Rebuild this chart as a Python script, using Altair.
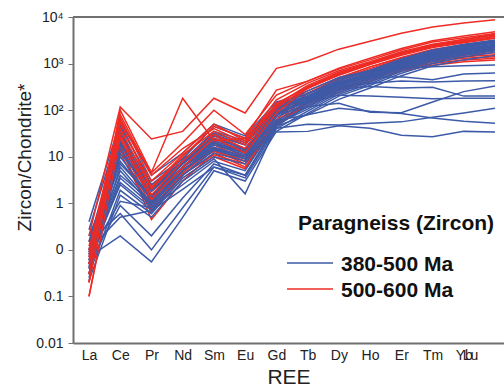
import altair as alt
import pandas as pd

elements = ["La", "Ce", "Pr", "Nd", "Sm", "Eu", "Gd", "Tb", "Dy", "Ho", "Er", "Tm", "Yb", "Lu"]
groups = ["380-500 Ma", "500-600 Ma"]
colors = ["#3D5AA8", "#EE2B24"]

# Zircon/chondrite-normalised REE patterns, 500-600 Ma group
red_lines = [
    [0.2, 117, 24, 35, 180, 87, 790, 1140, 2040, 3000, 4500, 6100, 7400, 8700],
    [0.05, 60, 4.6, 180, 22, 25, 270, 420, 800, 1300, 2100, 3100, 3900, 4800],
    [0.03, 100, 4.5, 20, 100, 30, 210, 420, 760, 1200, 1950, 2900, 3600, 4400],
    [0.1, 70, 3.0, 12, 50, 22, 166, 380, 700, 1100, 1800, 2600, 3300, 4100],
    [0.02, 40, 2.0, 10, 45, 25, 130, 340, 650, 1050, 1700, 2450, 3100, 3800],
    [0.05, 30, 1.5, 8, 30, 15, 110, 320, 600, 1000, 1600, 2300, 2900, 3600],
    [0.01, 25, 1.2, 6, 25, 12, 87, 300, 560, 950, 1500, 2200, 2800, 3500],
    [0.08, 50, 2.5, 9, 20, 10, 100, 260, 500, 850, 1350, 2000, 2500, 2900],
    [0.03, 35, 1.0, 5, 18, 9, 62, 230, 460, 780, 1250, 1800, 2200, 2500],
    [0.15, 20, 0.8, 4.5, 15, 8, 55, 200, 420, 720, 1150, 1650, 2000, 2300],
    [0.04, 15, 0.7, 4, 14, 7, 44, 170, 380, 660, 1050, 1500, 1800, 2050],
    [0.02, 45, 0.9, 6, 16, 10, 75, 190, 360, 620, 950, 1350, 1650, 1900],
    [0.06, 28, 1.8, 7, 22, 13, 95, 200, 380, 600, 900, 1250, 1500, 1700],
    [0.01, 18, 0.45, 3, 12, 6, 50, 150, 320, 540, 850, 1200, 1400, 1550],
    [0.03, 12, 0.65, 3.5, 10, 5.5, 48, 140, 290, 500, 800, 1100, 1300, 1400],
    [0.12, 35, 1.3, 5.5, 13, 8, 60, 140, 270, 460, 750, 1000, 1200, 1300],
    [0.05, 22, 1.1, 4.2, 11, 7, 52, 125, 240, 420, 680, 920, 1100, 1200],
    [0.02, 55, 2.2, 11, 35, 18, 140, 310, 620, 1020, 1650, 2500, 3300, 4300],
    [0.07, 80, 4.0, 15, 40, 20, 120, 290, 580, 980, 1580, 2350, 3000, 3900],
    [0.09, 14, 1.4, 7.5, 28, 14, 80, 230, 480, 850, 1300, 1900, 2500, 3000],
]

# Zircon/chondrite-normalised REE patterns, 380-500 Ma group
blue_lines = [
    [0.4, 56, 4.0, 12, 50, 28, 150, 220, 460, 720, 1250, 1950, 2600, 3200],
    [0.27, 44, 3.0, 9, 45, 25, 130, 200, 430, 680, 1180, 1850, 2480, 3050],
    [0.15, 32, 2.5, 8, 32, 20, 120, 190, 400, 640, 1120, 1750, 2350, 2900],
    [0.1, 23, 2.0, 7, 25, 15, 100, 175, 380, 610, 1060, 1650, 2200, 2750],
    [0.07, 15, 1.5, 6, 20, 12, 90, 165, 360, 580, 1000, 1560, 2080, 2600],
    [0.045, 3.5, 0.9, 5, 15, 9, 80, 155, 340, 550, 950, 1480, 1980, 2480],
    [0.06, 2.5, 0.7, 4, 12, 8, 70, 145, 320, 520, 900, 1420, 1900, 2380],
    [0.03, 1.9, 0.6, 3.5, 10, 7, 60, 135, 300, 490, 860, 1360, 1820, 2280],
    [0.022, 1.5, 0.5, 3, 9, 1.6, 45, 125, 280, 460, 820, 1300, 1740, 2180],
    [0.08, 1.1, 0.8, 2.5, 8, 5, 55, 115, 260, 430, 780, 1240, 1660, 2080],
    [0.05, 0.9, 0.2, 1.3, 7, 4, 50, 105, 240, 400, 730, 1170, 1580, 1980],
    [0.15, 0.6, 0.1, 0.8, 6, 3.5, 40, 95, 220, 370, 680, 1100, 1500, 1880],
    [0.07, 0.2, 0.055, 0.5, 5, 3, 35, 85, 200, 340, 620, 1000, 1380, 1750],
    [0.1, 0.5, 0.7, 2, 6, 4, 45, 80, 170, 300, 550, 900, 1200, 1500],
    [0.2, 8, 1.2, 5, 18, 11, 85, 160, 350, 570, 980, 1520, 2050, 2550],
    [0.025, 12, 1.8, 7, 28, 18, 110, 185, 390, 630, 1090, 1700, 2280, 2820],
    [0.06, 2.8, 0.8, 4, 14, 9, 34, 35, 46, 41, 29, 27, 35, 34],
    [0.04, 6, 1.0, 5, 16, 10, 41, 50, 48, 52, 56, 70, 87, 110],
    [0.1, 20, 1.5, 6, 18, 12, 60, 80, 110, 95, 85, 68, 58, 52],
    [0.05, 10, 1.3, 6, 22, 14, 90, 150, 210, 200, 190, 175, 180, 180],
    [0.08, 5, 0.9, 5, 15, 10, 80, 120, 140, 90, 88, 150, 250, 330],
    [0.03, 30, 2.0, 8, 30, 18, 110, 200, 330, 380, 420, 400, 420, 430],
    [0.06, 4, 1.1, 6, 20, 13, 120, 230, 400, 500, 520, 450, 600, 630],
    [0.04, 18, 2.2, 8, 35, 22, 130, 260, 500, 700, 800, 850, 900, 930],
    [0.09, 7, 1.4, 7, 24, 15, 90, 160, 280, 320, 300, 310, 200, 200],
]

y_ticks = [0.001, 0.01, 0.1, 1, 10, 100, 1000, 10000]
y_tick_labels = ["0.01", "0.1", "0", "1", "10", "10²", "10³", "10⁴"]

legend_title = "Paragneiss (Zircon)"
x_title = "REE"
y_title = "Zircon/Chondrite*"

FONT = "Liberation Sans"
W, H = 431, 326


def to_frame(group, lines, tag):
    rows = []
    for k, vals in enumerate(lines):
        for i, v in enumerate(vals):
            rows.append({"sample": f"{group}-{tag}-{k}", "group": group, "idx": i,
                         "element": elements[i], "value": v})
    return pd.DataFrame(rows)


# drawing order: lower red patterns, then blue, then upper red patterns on top
red_upper = [r for r in red_lines if r[-1] >= 3400]
red_lower = [r for r in red_lines if r[-1] < 3400]
df_red_lo = to_frame(groups[1], red_lower, "lo")
df_red_hi = to_frame(groups[1], red_upper, "hi")
df_blue = to_frame(groups[0], blue_lines, "b")

x_label_expr = "[" + ",".join(f"'{e}'" for e in elements) + "][round(datum.value)]"
y_label_expr = "[" + ",".join(f"'{t}'" for t in y_tick_labels) + "][round(log(datum.value)/LN10) + 3]"

x_enc = alt.X(
    "idx:Q",
    scale=alt.Scale(domain=[-0.512, 13.288], nice=False, zero=False),
    axis=alt.Axis(
        values=list(range(len(elements))),
        labelExpr=x_label_expr,
        labelOverlap=False,
        labelFlush=False,
        title=x_title,
        grid=False,
        ticks=False,
        tickSize=0,
        labelPadding=16,
        labelBaseline="alphabetic",
        labelFontSize=14,
        labelFont=FONT,
        labelColor="#222222",
        labelOffset={"condition": {"test": "datum.value == 13", "value": -25}, "value": 0},
        titleFont=FONT,
        titleFontSize=21,
        titleFontWeight="normal",
        titleColor="#222222",
        titleBaseline="alphabetic",
        titleY=40,
        domainColor="#707070",
        domainWidth=2,
    ),
)

y_enc = alt.Y(
    "value:Q",
    scale=alt.Scale(type="log", domain=[0.001, 10000], nice=False),
    axis=alt.Axis(
        values=y_ticks,
        labelExpr=y_label_expr,
        labelOverlap=False,
        labelFlush=False,
        title=y_title,
        grid=False,
        tickSize=5,
        tickColor="#707070",
        labelPadding=5,
        labelFontSize=14,
        labelFont=FONT,
        labelColor="#222222",
        titleFont=FONT,
        titleFontSize=19,
        titleFontWeight="normal",
        titleColor="#222222",
        titleAngle=270,
        titleAlign="center",
        titleBaseline="middle",
        titleX=-49,
        titleY=140,
        domainColor="#707070",
        domainWidth=2,
    ),
)


def line_layer(df, color):
    return alt.Chart(df).mark_line(strokeWidth=1.5, color=color).encode(
        x=x_enc, y=y_enc, detail="sample:N"
    )


red_lo_layer = line_layer(df_red_lo, colors[1])
blue_layer = line_layer(df_blue, colors[0])
red_hi_layer = line_layer(df_red_hi, colors[1])

# top frame line
frame_top = alt.Chart(pd.DataFrame({"k": [0]})).mark_rule(color="#707070", strokeWidth=2).encode(
    x=alt.value(0), x2=alt.value(W), y=alt.value(0)
)

# manual legend
leg_title = alt.Chart(pd.DataFrame({"t": [legend_title]})).mark_text(
    font=FONT, fontSize=21, fontWeight="bold", align="left", baseline="alphabetic", color="#111111"
).encode(x=alt.value(225), y=alt.value(213), text="t:N")

leg_items = []
for g, c, ly in ((groups[0], colors[0], 246), (groups[1], colors[1], 272)):
    d = pd.DataFrame({"label": [g]})
    leg_items.append(alt.Chart(d).mark_rule(color=c, strokeWidth=1.5).encode(
        x=alt.value(214), x2=alt.value(260), y=alt.value(ly)))
    leg_items.append(alt.Chart(d).mark_text(
        font=FONT, fontSize=21, fontWeight="bold", align="left", baseline="alphabetic", color="#111111"
    ).encode(x=alt.value(268), y=alt.value(ly + 8), text="label:N"))

chart = alt.layer(red_lo_layer, blue_layer, red_hi_layer, frame_top, leg_title, *leg_items).properties(
    width=W, height=H,
    autosize=alt.AutoSizeParams(type="none"),
    padding={"left": 73, "top": 17, "right": 0, "bottom": 43},
).configure_view(stroke=None).configure(background="white")

chart.save("out.html", embed_options={"renderer": "svg", "actions": False})
